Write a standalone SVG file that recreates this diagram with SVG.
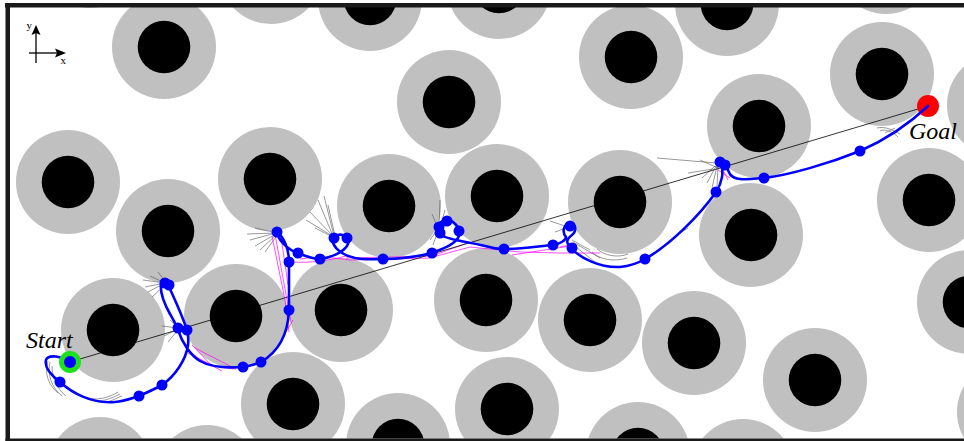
<svg xmlns="http://www.w3.org/2000/svg" width="964" height="441" viewBox="0 0 964 441">
<defs>
<clipPath id="area"><rect x="10" y="7" width="954" height="431.5"/></clipPath>
<g id="obs"><circle r="52" fill="#c0c0c0"/><circle r="26.3" fill="#000"/></g>
</defs>
<style>
.tree{fill:none;stroke:#555;stroke-width:0.6}
.mag{fill:none;stroke:#ff00ff;stroke-width:0.7}
.blue{fill:none;stroke:#0000ff;stroke-width:2.6;stroke-linejoin:round;stroke-linecap:round}
.dot{fill:#0000ff}
.lbl{font-family:"Liberation Serif","Times New Roman",serif;font-style:italic;font-size:24px;fill:#000}
.ax{font-family:"Liberation Serif","Times New Roman",serif;font-size:11px;fill:#000}
</style>
<rect x="0" y="0" width="964" height="441" fill="#fff"/>
<g id="field" clip-path="url(#area)">
<g id="obstacles">
<use href="#obs" x="90" y="-44"/>
<use href="#obs" x="271" y="-28"/>
<use href="#obs" x="164" y="47"/>
<use href="#obs" x="370" y="-1"/>
<use href="#obs" x="499" y="-13"/>
<use href="#obs" x="449" y="102"/>
<use href="#obs" x="631" y="57"/>
<use href="#obs" x="727" y="4"/>
<use href="#obs" x="886" y="-38"/>
<use href="#obs" x="882" y="74"/>
<use href="#obs" x="999" y="105"/>
<use href="#obs" x="759" y="126"/>
<use href="#obs" x="68" y="182"/>
<use href="#obs" x="270" y="179"/>
<use href="#obs" x="389" y="206"/>
<use href="#obs" x="497" y="196"/>
<use href="#obs" x="620" y="202"/>
<use href="#obs" x="751" y="235"/>
<use href="#obs" x="929" y="200"/>
<use href="#obs" x="168" y="231"/>
<use href="#obs" x="113" y="330"/>
<use href="#obs" x="236" y="316"/>
<use href="#obs" x="341" y="310"/>
<use href="#obs" x="486" y="300"/>
<use href="#obs" x="590" y="320"/>
<use href="#obs" x="694" y="343"/>
<use href="#obs" x="815" y="380"/>
<use href="#obs" x="969" y="302"/>
<use href="#obs" x="293" y="404"/>
<use href="#obs" x="398" y="445"/>
<use href="#obs" x="507" y="409"/>
<use href="#obs" x="638" y="454"/>
<use href="#obs" x="743" y="471"/>
<use href="#obs" x="1009" y="412"/>
<use href="#obs" x="100" y="469"/>
<use href="#obs" x="207" y="477"/>
</g>
<g id="tree">
<path class="tree" d="M48,361 C44,372 48,385 58,393 M50,362 C47,375 52,388 62,396 M52,366 C52,378 58,390 66,396"/>
<path class="tree" d="M82,396 C95,402 108,398 118,392 M88,399 C100,404 112,398 120,394 M95,401 C106,405 114,399 122,396"/>
<path class="tree" d="M165,283 L143,280 M165,283 L145,287 M165,283 L148,292 M165,283 L150,276 M166,284 L152,297 M167,284 L158,272"/>
<path class="tree" d="M178,328 L162,326 M178,329 L164,336 M178,330 L168,342 M179,328 L170,320"/>
<path class="tree" d="M276,233 L247,234 M276,233 L250,240 M276,234 L255,246 M277,234 L260,250 M277,233 L255,228 M278,234 L265,252"/>
<path class="tree" d="M333,236 L310,212 M333,236 L318,200 M334,236 L324,196 M334,237 L306,220 M335,236 L328,205 M333,237 L315,228"/>
<path class="tree" d="M438,228 L432,214 M439,227 L440,200 M440,228 L445,210 M437,230 L430,240 M438,231 L433,245"/>
<path class="tree" d="M568,227 L550,221 M569,227 L555,232 M572,240 L590,250 M573,242 L600,258 M572,244 L595,262"/>
<path class="tree" d="M592,252 C600,260 615,262 627,258 M597,249 C605,256 618,258 628,254"/>
<path class="tree" d="M657,158 L716,163 M688,173 L713,169 M716,166 L707,183 M717,166 L712,188 M718,167 L717,186 M715,166 L702,178 M700,160 L718,168 M680,233 L688,228"/>
<path class="tree" d="M877,128 C885,126 893,130 900,134 M880,131 C886,128 894,133 898,137 M885,133 L895,128"/>
</g>
<g id="magenta">
<path class="mag" d="M272,236 L285,300 L289,332 M275,234 L291,322 M280,230 L288,285 M286,332 L293,320"/>
<path class="mag" d="M189,350 C200,362 215,368 236,369 M188,353 L222,371 M192,345 L212,366 M195,348 L230,366"/>
<path class="mag" d="M292,262 C310,263 328,261 346,256 M300,259 C320,256 335,258 350,260 L430,258 M346,258 L432,256 L470,242"/>
<path class="mag" d="M436,226 L448,218 M433,257 L470,247 L520,252 L560,253 L600,253 M512,255 L577,245 M560,247 L575,244"/>
<path class="mag" d="M718,170 L730,178 M722,168 L728,180"/>
</g>
<line x1="70" y1="362" x2="928" y2="106" stroke="#000" stroke-width="0.8"/>
<g id="trajectory">
<path class="blue" d="M70,362 C62,356 48,354 46,360 C44,368 52,376 60,382 C72,393 92,404 115,402 C125,401 132,398 139,396 C148,392 155,389 162,385 C175,376 186,360 188,345 C189,338 188,334 187,330 C182,315 175,300 170,289 C167,282 162,278 161,284 C160,292 165,305 170,314 C174,321 177,326 178,330 C182,342 190,355 200,361 C212,368 228,368 243,367 C250,366 256,364 261,362 C278,352 288,335 289,310 L289,262 C289,248 283,236 277,232 C278,240 288,250 298,253 C305,256 312,259 320,259 C330,258 345,252 348,244 C350,236 340,232 334,237 C330,244 338,254 355,258 C365,260 375,259 383,259 C400,259 420,256 432,253 C442,249 455,245 459,236 C462,228 452,219 446,220 C438,221 435,230 441,235 C448,240 470,242 485,246 C495,249 500,249 504,249 C520,249 540,246 553,245 C560,244 566,240 566,237 C562,232 563,225 570,223 C576,223 577,231 572,235 C568,238 566,241 568,244 L571,248 C580,258 600,268 620,267 C630,266 640,262 645,259 C670,245 700,215 716,192 C722,183 724,172 721,164 C718,160 726,160 727,166 C728,172 730,178 740,179 C750,180 758,178 764,178 C790,175 830,163 860,151 C885,140 910,123 928,106"/>
</g>
<g id="waypoints">
<circle class="dot" cx="60" cy="382" r="5.5"/>
<circle class="dot" cx="139" cy="396" r="5.5"/>
<circle class="dot" cx="162" cy="385" r="5.5"/>
<circle class="dot" cx="165" cy="283" r="5.5"/>
<circle class="dot" cx="169" cy="285" r="5.5"/>
<circle class="dot" cx="178" cy="328" r="5.5"/>
<circle class="dot" cx="187" cy="330" r="5.5"/>
<circle class="dot" cx="243" cy="367" r="5.5"/>
<circle class="dot" cx="261" cy="362" r="5.5"/>
<circle class="dot" cx="289" cy="310" r="5.5"/>
<circle class="dot" cx="277" cy="232" r="5.5"/>
<circle class="dot" cx="289" cy="262" r="5.5"/>
<circle class="dot" cx="298" cy="253" r="5.5"/>
<circle class="dot" cx="320" cy="259" r="5.5"/>
<circle class="dot" cx="334" cy="238" r="5.5"/>
<circle class="dot" cx="347" cy="238" r="5.5"/>
<circle class="dot" cx="383" cy="259" r="5.5"/>
<circle class="dot" cx="432" cy="253" r="5.5"/>
<circle class="dot" cx="439" cy="227" r="5.5"/>
<circle class="dot" cx="447" cy="221" r="5.5"/>
<circle class="dot" cx="459" cy="231" r="5.5"/>
<circle class="dot" cx="440" cy="233" r="5.5"/>
<circle class="dot" cx="504" cy="249" r="5.5"/>
<circle class="dot" cx="553" cy="245" r="5.5"/>
<circle class="dot" cx="570" cy="226" r="5.5"/>
<circle class="dot" cx="572" cy="248" r="5.5"/>
<circle class="dot" cx="645" cy="259" r="5.5"/>
<circle class="dot" cx="716" cy="192" r="5.5"/>
<circle class="dot" cx="720" cy="162" r="5.5"/>
<circle class="dot" cx="725" cy="165" r="5.5"/>
<circle class="dot" cx="764" cy="178" r="5.5"/>
<circle class="dot" cx="860" cy="151" r="5.5"/>
</g>
<g id="start">
<circle cx="70" cy="362" r="11" fill="#1ee01e"/>
<circle cx="70" cy="362" r="6" fill="#0000ff"/>
<text class="lbl" x="26" y="348">Start</text>
</g>
<g id="goal">
<circle cx="928" cy="106" r="11" fill="#ff0000"/>
<path class="blue" d="M920,113 L928,106" stroke-width="2"/>
<text class="lbl" x="909" y="139">Goal</text>
</g>
</g>
<g id="axes">
<line x1="36" y1="63" x2="36" y2="32" stroke="#000" stroke-width="1.3"/>
<polygon points="36,25 31.5,35 36,33 40.5,35" fill="#000"/>
<line x1="29" y1="53" x2="60" y2="53" stroke="#000" stroke-width="1.3"/>
<polygon points="66,53 55,48.5 57,53 55,57.5" fill="#000"/>
<text class="ax" x="26.5" y="29">y</text>
<text class="ax" x="60.5" y="64">x</text>
</g>
<g id="frame" fill="#1a1a1a">
<rect x="5" y="3" width="959" height="4.5"/>
<rect x="5.5" y="3" width="4.5" height="438"/>
<rect x="5.5" y="438.5" width="958.5" height="2.5"/>
</g>
</svg>
